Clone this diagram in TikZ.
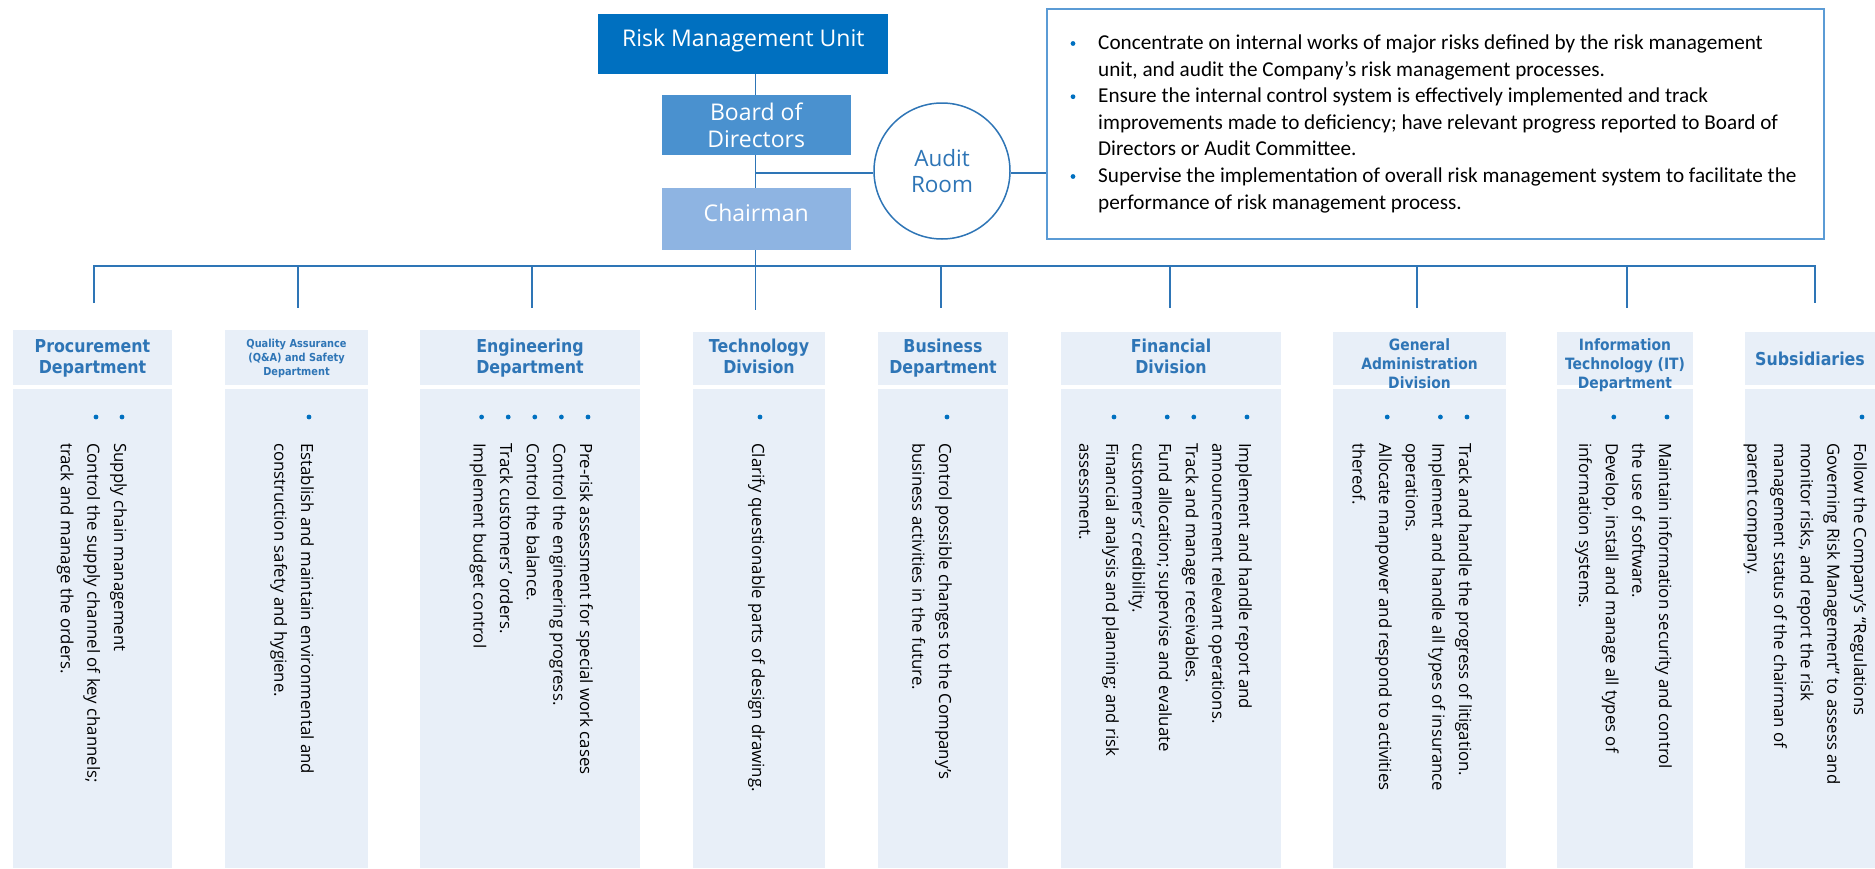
\documentclass[tikz,border=0pt]{standalone}
\usepackage{fontspec}
\setmainfont{Open Sans}
\newfontfamily\calfont{Carlito}
\newfontfamily\hdrfont{DejaVu Sans}[FakeStretch=0.89]
\definecolor{lineblue}{RGB}{46,117,182}
\definecolor{dotblue}{RGB}{0,112,192}
\definecolor{rmublue}{RGB}{0,112,192}
\definecolor{bodblue}{RGB}{74,145,207}
\definecolor{chairblue}{RGB}{142,180,226}
\definecolor{lightfill}{RGB}{232,239,248}
\definecolor{boxline}{RGB}{91,155,213}
\newcommand\hdrA{\hdrfont\bfseries\fontsize{17.8}{21}\selectfont}
\newcommand\hdrB{\hdrfont\bfseries\fontsize{15.6}{19}\selectfont}
\newcommand\hdrC{\hdrfont\bfseries\fontsize{11}{14}\selectfont}
\newcommand\bodyf{\fontsize{16.8}{26.6}\selectfont}
\tikzset{
  conn/.style={draw=lineblue, line width=1.5pt},
  bus/.style={draw=lineblue, line width=2pt},
  topbox/.style={inner sep=0, outer sep=0, text=white, align=center,
    font=\fontsize{23}{27}\selectfont},
  onelinetext/.style={text height=0.76em, text depth=0.24em},
  hdrbox/.style={fill=lightfill, draw=none, inner sep=0, outer sep=0, anchor=north west},
  bodybox/.style={fill=lightfill, draw=none, inner sep=0, outer sep=0, anchor=north west,
    minimum height=479pt},
  hdrtext/.style={text=lineblue, align=center, inner sep=0, anchor=base},
  bodytext/.style={rotate=-90, anchor=base west, align=left, inner sep=0, font=\bodyf},
  dot/.style={fill=dotblue, draw=none}
}
\begin{document}
\begin{tikzpicture}[x=1pt,y=-1pt]
\useasboundingbox (0,0) rectangle (1875,868);

% top hierarchy
\node[topbox, onelinetext, fill=rmublue, minimum width=290pt, minimum height=60pt] (rmu) at (743.3,44.3) {Risk Management Unit};
\node[topbox, fill=bodblue, minimum width=189pt, minimum height=60pt] (bod) at (756.2,125.2) {Board of\\Directors};
\node[topbox, onelinetext, fill=chairblue, minimum width=189pt, minimum height=62pt] (chair) at (756.2,219.2) {Chairman};
\node[circle, draw=lineblue, line width=1.5pt, fill=white, minimum size=136pt, inner sep=0,
  text=lineblue, align=center, font=\fontsize{22.5}{26}\selectfont] (audit) at (942,171) {Audit\\Room};
\node[draw=boxline, line width=1.5pt, minimum width=777pt, minimum height=230pt, inner sep=0] (tbox) at (1435.7,124) {};

\coordinate (top) at (755.7,74.3);
\draw[conn] (top) -- (bod.north -| top);
\draw[conn] (bod.south -| top) -- (chair.north -| top);
\coordinate (aj) at (755.7,173);
\draw[conn] (aj) -- (aj -| audit.west);
\draw[conn] (aj -| audit.east) -- (aj -| tbox.west);

% text box contents (base = last line)
\node[anchor=base west, align=left, inner sep=0, font=\calfont\fontsize{21.2}{26.6}\selectfont] (tboxtext) at (1098,209.1)
{Concentrate on internal works of major risks defined by the risk management\\
unit, and audit the Company’s risk management processes.\\
Ensure the internal control system is effectively implemented and track\\
improvements made to deficiency; have relevant progress reported to Board of\\
Directors or Audit Committee.\\
Supervise the implementation of overall risk management system to facilitate the\\
performance of risk management process.};
\fill[dot] (1073,43.5) circle (2.4pt);
\fill[dot] (1073,96.7) circle (2.4pt);
\fill[dot] (1073,176.5) circle (2.4pt);

% bus
\coordinate (b1) at (94,266); \coordinate (d1) at (94,303);
\coordinate (b2) at (298,266); \coordinate (d2) at (298,308);
\coordinate (b3) at (532,266); \coordinate (d3) at (532,308);
\coordinate (d4) at (755.7,310);
\coordinate (b5) at (941,266); \coordinate (d5) at (941,308);
\coordinate (b6) at (1170,266); \coordinate (d6) at (1170,308);
\coordinate (b7) at (1417,266); \coordinate (d7) at (1417,308);
\coordinate (b8) at (1627,266); \coordinate (d8) at (1627,308);
\coordinate (b9) at (1815,266); \coordinate (d9) at (1815,303);
\draw[bus] (d1) -- (b1) -- (b9) -- (d9);
\draw[conn] (chair.south -| d4) -- (d4);
\foreach \k in {2,3,5,6,7,8} { \draw[conn] (b\k) -- (d\k); }

% department boxes
\node[hdrbox, minimum width=159pt, minimum height=55pt] (hd1) at (13,330) {};
\node[hdrbox, minimum width=143pt, minimum height=55pt] (hd2) at (225,330) {};
\node[hdrbox, minimum width=220pt, minimum height=55pt] (hd3) at (420,330) {};
\node[hdrbox, minimum width=132pt, minimum height=53pt] (hd4) at (693,332) {};
\node[hdrbox, minimum width=130pt, minimum height=53pt] (hd5) at (878,332) {};
\node[hdrbox, minimum width=220pt, minimum height=53pt] (hd6) at (1061,332) {};
\node[hdrbox, minimum width=173pt, minimum height=53pt] (hd7) at (1333,332) {};
\node[hdrbox, minimum width=136pt, minimum height=53pt] (hd8) at (1557,332) {};
\node[hdrbox, minimum width=130pt, minimum height=53pt] (hd9) at (1745,332) {};

\node[bodybox, minimum width=159pt] (bd1) at (13,389) {};
\node[bodybox, minimum width=143pt] (bd2) at (225,389) {};
\node[bodybox, minimum width=220pt] (bd3) at (420,389) {};
\node[bodybox, minimum width=132pt] (bd4) at (693,389) {};
\node[bodybox, minimum width=130pt] (bd5) at (878,389) {};
\node[bodybox, minimum width=220pt] (bd6) at (1061,389) {};
\node[bodybox, minimum width=173pt] (bd7) at (1333,389) {};
\node[bodybox, minimum width=136pt] (bd8) at (1557,389) {};
\node[bodybox, minimum width=130pt] (bd9) at (1745,389) {};

% header texts (anchor base = last line baseline)
\node[hdrtext, font=\hdrA] (ht1) at (92.5,373) {Procurement\\Department};
\node[hdrtext, font=\hdrC] (ht2) at (296.5,375.5) {Quality Assurance\\(Q\&A) and Safety\\Department};
\node[hdrtext, font=\hdrA] (ht3) at (530,373) {Engineering\\Department};
\node[hdrtext, font=\hdrA] (ht4) at (759,373) {Technology\\Division};
\node[hdrtext, font=\hdrA] (ht5) at (943,373) {Business\\Department};
\node[hdrtext, font=\hdrA] (ht6) at (1171,373) {Financial\\Division};
\node[hdrtext, font=\hdrB] (ht7) at (1419.5,388) {General\\Administration\\Division};
\node[hdrtext, font=\hdrB] (ht8) at (1625,388) {Information\\Technology (IT)\\Department};
\node[hdrtext, font=\hdrA] (ht9) at (1810,365) {Subsidiaries};

% body texts (anchor base west = last line)
\node[bodytext] (bt1) at (60.8,443) {Supply chain management\\Control the supply channel of key channels;\\track and manage the orders.};
\foreach \x in {122,96} \fill[dot] (\x,417) circle (2.4pt);

\node[bodytext] (bt2) at (274.4,443) {Establish and maintain environmental and\\construction safety and hygiene.};
\fill[dot] (309,417) circle (2.4pt);

\node[bodytext] (bt3) at (473.6,443) {Pre-risk assessment for special work cases\\Control the engineering progress.\\Control the balance.\\Track customers’ orders.\\Implement budget control};
\foreach \x in {588,561.4,534.8,508.2,481.6} \fill[dot] (\x,417) circle (2.4pt);

\node[bodytext] (bt4) at (752,443) {Clarify questionable parts of design drawing.};
\fill[dot] (760,417) circle (2.4pt);

\node[bodytext] (bt5) at (912.4,443) {Control possible changes to the Company’s\\business activities in the future.};
\fill[dot] (947,417) circle (2.4pt);

\node[bodytext] (bt6) at (1079.4,443) {Implement and handle report and\\announcement relevant operations.\\Track and manage receivables.\\Fund allocation; supervise and evaluate\\customers’ credibility.\\Financial analysis and planning; and risk\\assessment.};
\foreach \x in {1247,1193.8,1167.2,1114} \fill[dot] (\x,417) circle (2.4pt);

\node[bodytext] (bt7) at (1352.6,443) {Track and handle the progress of litigation.\\Implement and handle all types of insurance\\operations.\\Allocate manpower and respond to activities\\thereof.};
\foreach \x in {1467,1440.4,1387.2} \fill[dot] (\x,417) circle (2.4pt);

\node[bodytext] (bt8) at (1579.2,443) {Maintain information security and control\\the use of software.\\Develop, install and manage all types of\\information systems.};
\foreach \x in {1667,1613.8} \fill[dot] (\x,417) circle (2.4pt);

\node[bodytext] (bt9) at (1747.6,443) {Follow the Company’s “Regulations\\Governing Risk Management” to assess and\\monitor risks, and report the risk\\management status of the chairman of\\parent company.};
\fill[dot] (1862,417) circle (2.4pt);
\end{tikzpicture}
\end{document}
